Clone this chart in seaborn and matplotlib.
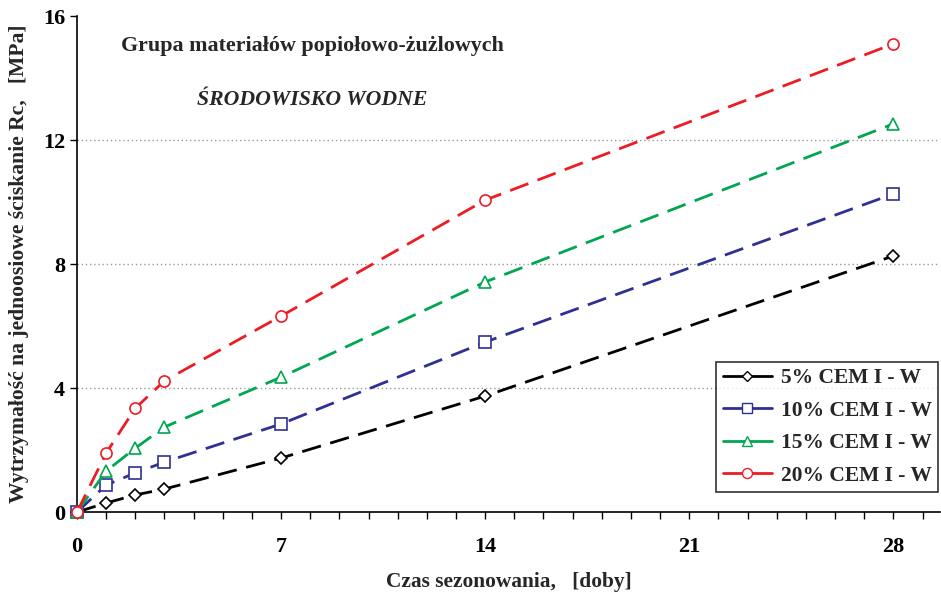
import numpy as np
import pandas as pd
import matplotlib
matplotlib.use("Agg")
import matplotlib.pyplot as plt
import seaborn as sns
from matplotlib.ticker import MultipleLocator
from matplotlib.lines import Line2D

days = [0, 1, 2, 3, 7, 14, 28]
series_names = ["5% CEM I - W", "10% CEM I - W", "15% CEM I - W", "20% CEM I - W"]
s5 = [0, 0.29, 0.55, 0.74, 1.74, 3.74, 8.26]
s10 = [0, 0.87, 1.26, 1.61, 2.84, 5.48, 10.26]
s15 = [0, 1.32, 2.06, 2.74, 4.35, 7.42, 12.52]
s20 = [0, 1.90, 3.35, 4.23, 6.32, 10.06, 15.10]
colors = ["#000000", "#2E3192", "#00A651", "#ED1C24"]
markers = ["D", "s", "^", "o"]
yticks = [0, 4, 8, 12, 16]
xticks = [0, 7, 14, 21, 28]

sns.set_theme(style="white")
plt.rcParams["font.family"] = ["Liberation Serif", "DejaVu Serif"]
plt.rcParams["font.weight"] = "bold"

rows = []
for name, vals in zip(series_names, [s5, s10, s15, s20]):
    for d, v in zip(days, vals):
        rows.append({"day": d, "Rc": v, "seria": name})
df = pd.DataFrame(rows)

fig = plt.figure(figsize=(9.41, 5.94), dpi=100)
ax = fig.add_axes([77/941, 82/594, (940-77)/941, (578-82)/594])

sns.lineplot(data=df, x="day", y="Rc", hue="seria", style="seria",
             palette=dict(zip(series_names, colors)),
             markers=dict(zip(series_names, markers)),
             dashes={n: (7, 3.5) for n in series_names},
             linewidth=2.0, markersize=8, markerfacecolor="white",
             ax=ax, legend=False)
for line, c, mk in zip(ax.get_lines(), colors, markers):
    line.set_markeredgecolor(c)
    line.set_markerfacecolor("white")
    line.set_markeredgewidth(1.2)
    line.set_clip_on(False)
    line.set_zorder(5)
    if mk == "D":
        line.set_markersize(6)

ax.set_xlim(0, 29.6)
ax.set_ylim(0, 16)
ax.set_xticks(xticks)
ax.xaxis.set_minor_locator(MultipleLocator(1))
ax.set_yticks(yticks)
ax.tick_params(axis="both", which="both", direction="out", length=5, width=1,
               colors="black", labelsize=16, bottom=True, left=True)
ax.tick_params(axis="x", pad=13)
for lab in ax.get_xticklabels() + ax.get_yticklabels():
    lab.set_fontweight("bold")
for y in [4, 8, 12]:
    ax.axhline(y, color="#999999", linestyle=(0, (1, 2)), linewidth=1, zorder=0)
for sp in ["top", "right"]:
    ax.spines[sp].set_visible(False)
for sp in ["left", "bottom"]:
    ax.spines[sp].set_color("black")
    ax.spines[sp].set_linewidth(1.2)
ax.set_xlabel("Czas sezonowania,   [doby]", fontsize=15.4, fontweight="bold", labelpad=11)
ax.set_ylabel("Wytrzymałość na jednoosiowe ściskanie Rc,   [MPa]", fontsize=15.6,
              fontweight="bold", labelpad=10)

ax.text(0.273, 0.94, "Grupa materiałów popiołowo-żużlowych", transform=ax.transAxes,
        ha="center", va="center", fontsize=15.8, fontweight="bold")
ax.text(0.273, 0.83, "ŚRODOWISKO WODNE", transform=ax.transAxes,
        ha="center", va="center", fontsize=15.7, fontweight="bold", style="italic")

handles = [Line2D([0], [0], color=c, marker=m, markersize=(6 if m == "D" else 8) * 0.9,
                  markerfacecolor="white", markeredgecolor=c, linewidth=2)
           for c, m in zip(colors, markers)]
leg = ax.legend(handles, series_names, loc="lower right", bbox_to_anchor=(0.998, 0.04),
                borderaxespad=0, frameon=True, fancybox=False, edgecolor="black",
                prop={"weight": "bold", "size": 15.5}, handlelength=2.3,
                borderpad=0.3, labelspacing=0.58, handletextpad=0.4)
leg.get_frame().set_linewidth(1.2)

fig.savefig("out.png", dpi=100)
